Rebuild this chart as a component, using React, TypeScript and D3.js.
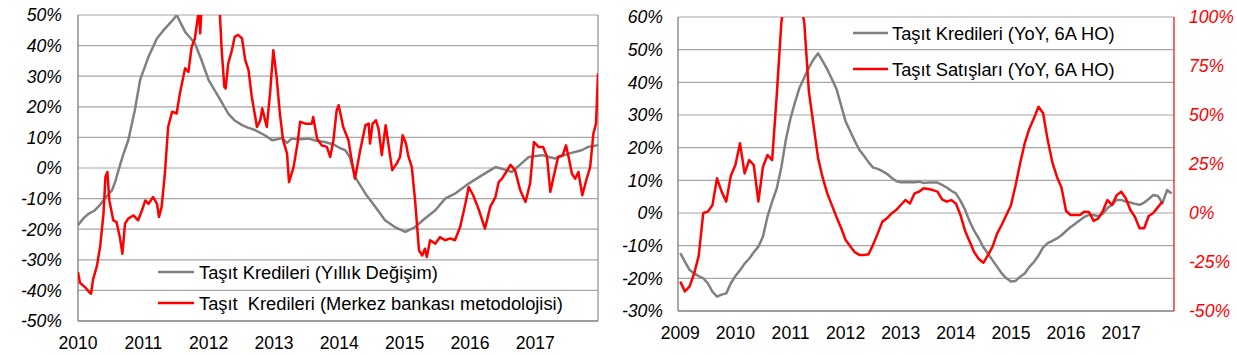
import React from 'react';
import * as d3 from 'd3';

const FONT = '"Liberation Sans", Arial, sans-serif';

// ---------- Left chart data ----------
const leftYTicks = [50, 40, 30, 20, 10, 0, -10, -20, -30, -40, -50];
const leftYearLabels = ['2010', '2011', '2012', '2013', '2014', '2015', '2016', '2017'];
const leftLegend = ['Taşıt Kredileri (Yıllık Değişim)', 'Taşıt  Kredileri (Merkez bankası metodolojisi)'];

const leftGrayDates = [
  2010.0, 2010.08, 2010.16, 2010.26, 2010.34, 2010.41, 2010.47, 2010.52, 2010.57, 2010.62, 2010.69, 2010.77, 2010.87,
  2010.95, 2011.08, 2011.21, 2011.3, 2011.38, 2011.45, 2011.51, 2011.58, 2011.64, 2011.72, 2011.79, 2011.89, 2012.0,
  2012.15, 2012.3, 2012.4, 2012.51, 2012.6, 2012.71, 2012.86, 2012.97, 2013.05, 2013.12, 2013.2, 2013.27, 2013.4,
  2013.53, 2013.65, 2013.78, 2013.92, 2014.02, 2014.09, 2014.16, 2014.24, 2014.4, 2014.55, 2014.7, 2014.85, 2015.01,
  2015.16, 2015.31, 2015.47, 2015.62, 2015.77, 2015.98, 2016.18, 2016.39, 2016.5, 2016.64, 2016.79, 2016.9, 2017.1,
  2017.3, 2017.51, 2017.71, 2017.81, 2017.96,
];
const leftGrayValues = [
  -18.7, -16.5, -15, -13.8, -12, -9.9, -8.5, -7.3, -4.5, -0.7, 4.2, 9.1, 18.9,
  28.7, 36.4, 42.4, 44.8, 46.7, 48.3, 50, 47, 44.5, 42.5, 40.7, 35.3, 28.7,
  23.3, 17.8, 15.5, 14, 13.2, 12.4, 10.7, 9.1, 9.4, 9.8, 8.2, 9.6, 9.4,
  9.6, 8.9, 8.5, 7.6, 6.4, 5.8, 3.6, -2.9, -8.4, -12.7, -17.1, -19.3, -20.9,
  -19.3, -16.5, -13.8, -10, -8.4, -5.1, -2.4, 0.3, -0.3, -1.3, 1.5, 3.6, 4.2,
  3.1, 4.7, 5.8, 6.9, 7.4,
];

const leftRedDates = [
  2010.0, 2010.03, 2010.11, 2010.16, 2010.2, 2010.23, 2010.29, 2010.34, 2010.39, 2010.42, 2010.45, 2010.48, 2010.54,
  2010.59, 2010.64, 2010.68, 2010.72, 2010.77, 2010.85, 2010.92, 2010.98, 2011.03, 2011.08, 2011.15, 2011.21, 2011.24,
  2011.28, 2011.33, 2011.38, 2011.44, 2011.51, 2011.56, 2011.64, 2011.69, 2011.74, 2011.79, 2011.82, 2011.85, 2011.87,
  2011.9, 2011.97, 2012.05, 2012.12, 2012.17, 2012.2, 2012.24, 2012.26, 2012.3, 2012.35, 2012.4, 2012.45, 2012.51,
  2012.56, 2012.61, 2012.66, 2012.74, 2012.79, 2012.82, 2012.89, 2012.94, 2012.99, 2013.04, 2013.09, 2013.14, 2013.2,
  2013.23, 2013.3, 2013.36, 2013.4, 2013.48, 2013.58, 2013.6, 2013.66, 2013.73, 2013.81, 2013.86, 2013.91, 2013.96,
  2013.99, 2014.06, 2014.14, 2014.19, 2014.24, 2014.32, 2014.4, 2014.45, 2014.47, 2014.51, 2014.56, 2014.6, 2014.65,
  2014.68, 2014.71, 2014.75, 2014.81, 2014.88, 2014.93, 2014.97, 2015.02, 2015.06, 2015.11, 2015.16, 2015.22, 2015.27,
  2015.31, 2015.34, 2015.39, 2015.47, 2015.54, 2015.62, 2015.7, 2015.77, 2015.85, 2015.93, 2015.98, 2016.05, 2016.13,
  2016.23, 2016.31, 2016.39, 2016.44, 2016.49, 2016.54, 2016.62, 2016.69, 2016.77, 2016.85, 2016.92, 2016.98, 2017.05,
  2017.12, 2017.18, 2017.23, 2017.28, 2017.35, 2017.42, 2017.47, 2017.51, 2017.56, 2017.61, 2017.66, 2017.72, 2017.78,
  2017.84, 2017.89, 2017.93, 2017.96,
];
const leftRedValues = [
  -34, -37.5, -39, -40.3, -41.1, -36.5, -32, -25.5, -15, -2.9, -1.3, -10.6, -17.1,
  -17.7, -22.6, -28, -18.2, -16.5, -15.5, -17.1, -13.8, -10.6, -11.7, -9.5, -11.7, -16,
  -12.7, -1.8, 13.4, 18.4, 17.8, 24.4, 32.6, 31.4, 39.6, 42.4, 47, 52, 44,
  55, 70, 75, 65, 51, 38.5, 26.5, 26, 34.2, 38, 42.9, 43.5, 42.4,
  35.3, 32, 23.3, 13.4, 15.6, 19.5, 13.4, 24.4, 38.5, 29.8, 17.8, 9.1, 4.7,
  -4.6, 0.3, 8, 15.1, 14.5, 14.5, 16.7, 9.6, 7.4, 6.9, 3.6, 9.1, 18.9,
  20.5, 13.4, 9.1, 2.5, -3.5, 5.8, 14, 14.5, 8, 14.5, 15.6, 12.9, 4.2,
  9.1, 14, 8, -0.7, 1.5, 3.6, 10.7, 8, 3.6, 0.3, -10.6, -26.9, -28.6,
  -26.4, -29.1, -23.6, -24.7, -22.6, -23.6, -23, -23.6, -19.3, -11.7, -6.2, -8.9, -13.3,
  -19.8, -12.7, -9.5, -4.6, -3.5, -1.8, 1.0, -0.7, -7.3, -11.1, -5.1, 8.5, 6.9,
  6.9, 3.6, -7.8, -2.9, 3.6, 4.2, 7.4, 3.6, -1.8, -3.5, -1.3, -8.9, -4,
  0.3, 11.3, 14.5, 30.9,
];

// ---------- Right chart data (monthly, Jan 2009 - Dec 2017) ----------
const rightYearLabels = ['2009', '2010', '2011', '2012', '2013', '2014', '2015', '2016', '2017'];
const rightLeftTicks = [60, 50, 40, 30, 20, 10, 0, -10, -20, -30];
const rightRightTicks = [100, 75, 50, 25, 0, -25, -50];
const rightLegend = ['Taşıt Kredileri (YoY, 6A HO)', 'Taşıt Satışları (YoY, 6A HO)'];

const rightGrayValues = [
  // 2009
  -12.3, -14.9, -17.4, -18.5, -19.3, -20, -21.5, -24.1, -25.6, -25, -24.6, -21.5,
  // 2010
  -19.3, -17.5, -15.5, -14, -12, -10.3, -7.2, -1, 3.5, 7.5, 14, 22.5,
  // 2011
  29, 34, 38.5, 41.5, 44.5, 47, 48.9, 46.5, 44, 41, 38, 33,
  // 2012
  28, 25, 22, 19.3, 17.5, 15.5, 13.9, 13.5, 12.8, 12, 10.8, 9.8,
  // 2013
  9.4, 9.4, 9.5, 9.4, 9.6, 9.2, 9.3, 9.3, 9.3, 8.6, 7.8, 6.8,
  // 2014
  6.0, 3.8, 1, -2.5, -5.5, -7.8, -10.5, -12.5, -14.5, -16.5, -18.5, -20,
  // 2015
  -21, -20.8, -19.5, -18.5, -16.5, -15, -13, -10.5, -9.2, -8.5, -7.8, -6.8,
  // 2016
  -5.5, -4.3, -3.3, -2.2, -1.2, -0.6, -0.6, -1.0, -0.2, 1.5, 2.5, 4,
  // 2017
  4.0, 3.5, 3.2, 2.8, 2.5, 3.2, 4.3, 5.5, 5.2, 3.0, 7, 6,
];

const rightRedValues = [
  // 2009
  -35, -40, -37.6, -31, -22, 0, 0.7, 4, 17.7, 10.9, 5.8, 19,
  // 2010
  24.5, 35.6, 20.2, 27, 24.5, 5.8, 23.6, 29.6, 27, 60, 97, 115,
  // 2011
  125, 125, 110, 97, 62, 45, 28, 18, 10, 4, -2, -7.5,
  // 2012
  -13.8, -17, -20, -21.4, -21.4, -21, -16, -10.4, -4.4, -2.7, -0.2, 1.5,
  // 2013
  4.1, 6.6, 4.9, 10, 10.9, 12.6, 12.2, 11.7, 10.9, 7, 5.8, 6.6,
  // 2014
  4.9, -1, -9, -14.5, -20, -23.5, -25.4, -21.5, -17.2, -10.4, -6, -1,
  // 2015
  4, 14, 25.4, 35.6, 43, 48.3, 54.2, 50.9, 37.2, 26, 18.5, 13,
  // 2016
  1, -1, -1, -1, 0.7, 0.5, -4, -2.8, 1, 6.6, 4.1, 9,
  // 2017
  10.9, 7.5, 1.5, -2, -7.8, -7.8, -1.5, 0, 3, 5.8,
];

const GRID = '#a6a6a6';
const AXIS = '#8c8c8c';
const GRAY = '#808080';
const RED = '#ff0000';
const FS = 17.6;
const LFS = 18.3;

function LeftChart() {
  const x0 = 78, x1 = 598, y0 = 15, y1 = 321;
  const x = d3.scaleLinear().domain([2010, 2017.96]).range([x0, x1]);
  const y = d3.scaleLinear().domain([-50, 50]).range([y1, y0]);
  const line = d3.line<[number, number]>().x((d) => x(d[0])).y((d) => y(d[1]));
  const gray = leftGrayDates.map((t, i) => [t, leftGrayValues[i]] as [number, number]);
  const red = leftRedDates.map((t, i) => [t, leftRedValues[i]] as [number, number]);
  return (
    <g>
      <defs>
        <clipPath id="clipL">
          <rect x={x0} y={y0} width={x1 - x0} height={y1 - y0} />
        </clipPath>
      </defs>
      {leftYTicks.map((v) => (
        <line key={v} x1={x0} x2={x1} y1={y(v)} y2={y(v)} stroke={GRID} strokeWidth={1.2} />
      ))}
      <line x1={x0} x2={x0} y1={y0} y2={y1} stroke={AXIS} strokeWidth={1.5} />
      <line x1={x1} x2={x1} y1={y0} y2={y1} stroke={AXIS} strokeWidth={1.2} />
      <line x1={x0} x2={x1} y1={y1} y2={y1} stroke={AXIS} strokeWidth={1.5} />
      {leftYTicks.map((v) => (
        <text key={v} x={62} y={y(v)} dy="0.36em" textAnchor="end" fontStyle="italic" fontSize={FS} fontFamily={FONT} fill="#000">
          {v}%
        </text>
      ))}
      {leftYearLabels.map((l) => (
        <text key={l} x={x(+l)} y={349} textAnchor="middle" fontSize={FS} fontFamily={FONT} fill="#000">
          {l}
        </text>
      ))}
      <g clipPath="url(#clipL)">
        <path d={line(gray) || ''} fill="none" stroke={GRAY} strokeWidth={2.5} strokeLinejoin="round" />
        <path d={line(red) || ''} fill="none" stroke={RED} strokeWidth={2.5} strokeLinejoin="round" />
      </g>
      <line x1={158} x2={194} y1={272} y2={272} stroke={GRAY} strokeWidth={2.5} />
      <text x={199} y={272} dy="0.36em" fontSize={LFS} fontFamily={FONT} fill="#000" style={{ whiteSpace: 'pre' }}>
        {leftLegend[0]}
      </text>
      <line x1={158} x2={194} y1={303} y2={303} stroke={RED} strokeWidth={2.5} />
      <text x={199} y={303} dy="0.36em" fontSize={LFS} fontFamily={FONT} fill="#000" style={{ whiteSpace: 'pre' }}>
        {leftLegend[1]}
      </text>
    </g>
  );
}

function RightChart() {
  const x0 = 678, x1 = 1174, y0 = 17, y1 = 311;
  const x = d3.scaleLinear().domain([-0.5, 107.5]).range([x0, x1]);
  const yL = d3.scaleLinear().domain([-30, 60]).range([y1, y0]);
  const yR = d3.scaleLinear().domain([-50, 100]).range([y1, y0]);
  const lineL = d3.line<number>().x((_, i) => x(i)).y((d) => yL(d));
  const lineR = d3.line<number>().x((_, i) => x(i)).y((d) => yR(d));
  return (
    <g>
      <defs>
        <clipPath id="clipR">
          <rect x={x0} y={y0} width={x1 - x0} height={y1 - y0} />
        </clipPath>
      </defs>
      {rightLeftTicks.map((v) => (
        <line key={v} x1={x0} x2={x1} y1={yL(v)} y2={yL(v)} stroke={GRID} strokeWidth={1.2} />
      ))}
      <line x1={x0} x2={x0} y1={y0} y2={y1} stroke={AXIS} strokeWidth={1.5} />
      <line x1={x0} x2={x1} y1={y1} y2={y1} stroke={AXIS} strokeWidth={1.5} />
      <line x1={x1} x2={x1} y1={y0} y2={y1} stroke={RED} strokeWidth={1.2} />
      {rightLeftTicks.map((v) => (
        <text key={v} x={663} y={yL(v)} dy="0.36em" textAnchor="end" fontStyle="italic" fontSize={FS} fontFamily={FONT} fill="#000">
          {v}%
        </text>
      ))}
      {rightRightTicks.map((v) => (
        <text key={v} x={1189} y={yR(v)} dy="0.36em" textAnchor="start" fontStyle="italic" fontSize={FS} fontFamily={FONT} fill={RED}>
          {v}%
        </text>
      ))}
      {rightYearLabels.map((l, k) => (
        <text key={l} x={x(k * 12)} y={339} textAnchor="middle" fontSize={FS} fontFamily={FONT} fill="#000">
          {l}
        </text>
      ))}
      <g clipPath="url(#clipR)">
        <path d={lineL(rightGrayValues) || ''} fill="none" stroke={GRAY} strokeWidth={2.5} strokeLinejoin="round" />
        <path d={lineR(rightRedValues) || ''} fill="none" stroke={RED} strokeWidth={2.5} strokeLinejoin="round" />
      </g>
      <line x1={853} x2={888} y1={33} y2={33} stroke={GRAY} strokeWidth={2.5} />
      <text x={892} y={33} dy="0.36em" fontSize={LFS} fontFamily={FONT} fill="#000">
        {rightLegend[0]}
      </text>
      <line x1={853} x2={888} y1={69} y2={69} stroke={RED} strokeWidth={2.5} />
      <text x={892} y={69} dy="0.36em" fontSize={LFS} fontFamily={FONT} fill="#000">
        {rightLegend[1]}
      </text>
    </g>
  );
}

export default function App() {
  return (
    <svg
      width={1237}
      height={355}
      style={{ position: 'absolute', left: 0, top: 0, background: '#fff' }}
    >
      <rect x={0} y={0} width={1237} height={355} fill="#fff" />
      <LeftChart />
      <RightChart />
    </svg>
  );
}
